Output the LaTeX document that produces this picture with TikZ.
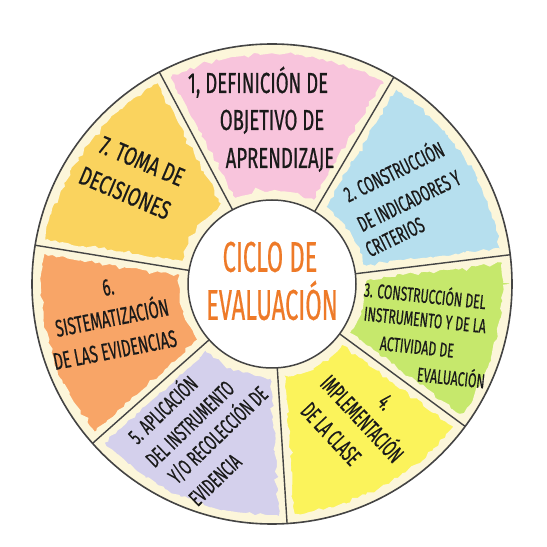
\documentclass[tikz,border=0pt]{standalone}
\usepackage{fontspec}
\newfontfamily\handS[FakeStretch=0.57,FakeBold=0.5]{Fira Sans}
\newfontfamily\handM[FakeStretch=0.61,FakeBold=0.5]{Fira Sans}
\newfontfamily\handW[FakeStretch=0.64,FakeBold=0.5]{Fira Sans}
\newfontfamily\handL[FakeStretch=0.70,FakeBold=0.5]{Fira Sans}
\newfontfamily\handT[FakeStretch=0.55,FakeBold=0.4]{Fira Sans}
\usetikzlibrary{decorations.pathmorphing}
\definecolor{cream}{HTML}{FCF6DA}
\definecolor{cpink}{HTML}{F8C4DC}
\definecolor{cblue}{HTML}{B6DFEE}
\definecolor{cgreen}{HTML}{C6E86C}
\definecolor{cyellow}{HTML}{FBF35B}
\definecolor{clav}{HTML}{D4D0EC}
\definecolor{corange}{HTML}{F8A567}
\definecolor{cgold}{HTML}{FAD35E}
\definecolor{ctitle}{HTML}{EE7A28}
\definecolor{cline}{HTML}{444444}
\definecolor{ctext}{HTML}{1A1A1A}
\newcommand\wedgefill[3]{\fill[#3] (#1:84pt) -- (#1:240pt) arc[start angle=#1,end angle=#2,radius=240pt] -- (#2:84pt) arc[start angle=#2,end angle=#1,radius=84pt] -- cycle;}
\tikzset{
  rough/.style={decorate,decoration={random steps,segment length=4pt,amplitude=1.6pt}},
  txt/.style={inner sep=0pt,text=ctext,text depth=0pt},
  fa/.style={font=\handW\fontsize{29}{30}\selectfont,text height=20pt},
  fb/.style={font=\handM\fontsize{22}{24}\selectfont,text height=15.2pt},
  fc/.style={font=\handM\fontsize{20}{22}\selectfont,text height=13.8pt},
  fd/.style={font=\handS\fontsize{24}{26}\selectfont,text height=16.5pt},
  fd2/.style={font=\handM\fontsize{24}{26}\selectfont,text height=16.5pt},
  fe/.style={font=\handL\fontsize{26}{28}\selectfont,text height=17.9pt},
  ftitle/.style={font=\handT\fontsize{43}{45}\selectfont,text=ctitle,text height=29.6pt},
}
\begin{document}
\begin{tikzpicture}[x=1pt,y=1pt]
\useasboundingbox (0,0) rectangle (547,547);
\fill[white] (0,0) rectangle (547,547);
\begin{scope}[shift={(272,263)}]
  \begin{scope}
    \clip (0,0) circle[radius=240pt];
    \fill[cream] (0,0) circle[radius=240pt];
    \wedgefill{59.5}{118}{cpink}
    \wedgefill{7}{59.5}{cblue}
    \wedgefill{-36.4}{7}{cgreen}
    \wedgefill{-86.4}{-36.4}{cyellow}
    \wedgefill{-138.4}{-86.4}{clav}
    \wedgefill{170.7}{221.6}{corange}
    \wedgefill{118}{170.7}{cgold}
    \foreach \a in {118,59.5,7,-36.4,-86.4,-138.4,170.7}
      \draw[cream,line width=14pt,rough] (\a:84pt) -- (\a:240pt);
    \draw[cream,line width=18pt,rough] (0,0) circle[radius=240pt];
    \draw[cream,line width=18pt,rough] (0,0) circle[radius=84pt];
  \end{scope}
  \foreach \a in {118,59.5,7,-36.4,-86.4,-138.4,170.7}
    \draw[cline,line width=1.4pt] (\a:84pt) -- (\a:240pt);
  \draw[cline,line width=1.6pt] (0,0) circle[radius=240pt];
  \draw[cline,line width=1.5pt,fill=white] (0,0) circle[radius=84pt];
\end{scope}
% sector 1
\node[txt,fa] (s1a) at (258,464) {1, DEFINICIÓN DE};
\node[txt,fa] (s1b) at (272,427) {OBJETIVO DE};
\node[txt,fa] (s1c) at (280,389) {APRENDIZAJE};
% sector 2
\node[txt,fb,rotate=26] (s2a) at (394,375) {2. CONSTRUCCIÓN};
\node[txt,fb,rotate=26] (s2b) at (409,346) {DE INDICADORES Y};
\node[txt,fb,rotate=26] (s2c) at (395,310) {CRITERIOS};
% sector 3
\node[txt,fc,rotate=-6] (s3a) at (425,251) {3. CONSTRUCCIÓN DEL};
\node[txt,fc,rotate=-6] (s3b) at (425,227) {INSTRUMENTO Y DE LA};
\node[txt,fc,rotate=-6] (s3c) at (417,200) {ACTIVIDAD DE};
\node[txt,fc,rotate=-6] (s3d) at (451,169) {EVALUACIÓN};
% sector 4
\node[txt,fd,rotate=-47] (s4a) at (386,145) {4.};
\node[txt,fd,rotate=-47] (s4b) at (362,128) {IMPLEMENTACIÓN};
\node[txt,fd,rotate=-47] (s4c) at (331,113) {DE LA CLASE};
% sector 5
\node[txt,fb,rotate=44] (s5a) at (163,137) {5. APLICACIÓN};
\node[txt,fb,rotate=44] (s5b) at (190,123) {DEL INSTRUMENTO};
\node[txt,fb,rotate=44] (s5c) at (218,112) {Y/O RECOLECCIÓN DE};
\node[txt,fb,rotate=44] (s5d) at (215,67) {EVIDENCIA};
% sector 6
\node[txt,fd2,rotate=11] (s6a) at (108,260) {6.};
\node[txt,fd2,rotate=11] (s6b) at (112,229) {SISTEMATIZACIÓN};
\node[txt,fd2,rotate=11] (s6c) at (115,197) {DE LAS EVIDENCIAS};
% sector 7
\node[txt,fe,rotate=-23] (s7a) at (142,386) {7. TOMA DE};
\node[txt,fe,rotate=-23] (s7b) at (125,354) {DECISIONES};
% centre
\node[txt,ftitle] (t1) at (270,290) {CICLO DE};
\node[txt,ftitle] (t2) at (272,242) {EVALUACIÓN};
\end{tikzpicture}
\end{document}
